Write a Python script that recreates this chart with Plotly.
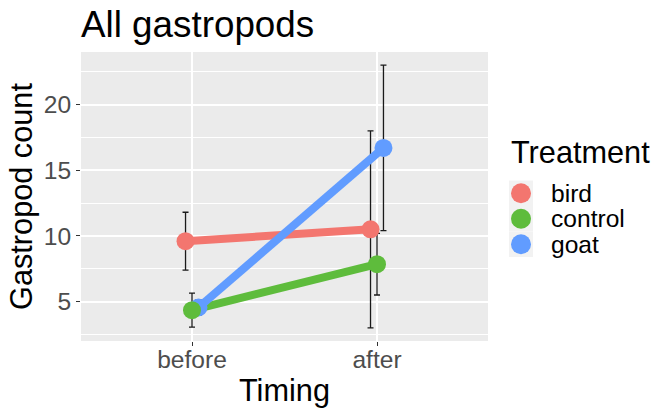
import plotly.graph_objects as go

# Mean gastropod counts (± error) per treatment, before and after
timing = ["before", "after"]
treatments = ["bird", "control", "goat"]
bird_mean = [9.6, 10.5]
bird_err = [2.2, 7.5]
control_mean = [4.35, 7.85]
control_err = [1.3, 2.35]
goat_mean = [4.55, 16.7]
goat_err = [0.6, 6.3]

means = {"bird": bird_mean, "control": control_mean, "goat": goat_mean}
errs = {"bird": bird_err, "control": control_err, "goat": goat_err}
colors = {"bird": "#F3766F", "control": "#5EBC3C", "goat": "#619CFF"}
dodge = {"bird": -0.035, "control": 0.0, "goat": 0.035}

FIG_W, FIG_H = 658, 408
ML, MR, MT, MB = 81, 170, 52, 67
PW = FIG_W - ML - MR
PH = FIG_H - MT - MB
BASE = 30.7
FONT = "Liberation Sans, Arial, sans-serif"


def px_x(p):
    return (p - ML) / PW


def px_y(p):
    return (FIG_H - MB - p) / PH


xpos = {t: [i + 1 + dodge[t] for i in range(len(timing))] for t in treatments}

fig = go.Figure()

# error bars (drawn underneath)
for t in treatments:
    fig.add_trace(go.Scatter(
        x=xpos[t], y=means[t], mode="markers",
        marker=dict(size=1, color="rgba(0,0,0,0)"),
        error_y=dict(type="data", array=errs[t], visible=True,
                     color="#1a1a1a", thickness=1.3, width=3),
        showlegend=False, hoverinfo="skip",
    ))

# connecting lines
for t in treatments:
    fig.add_trace(go.Scatter(
        x=xpos[t], y=means[t], mode="lines",
        line=dict(color=colors[t], width=8),
        showlegend=False, hoverinfo="skip",
    ))

# points
for t in ["goat", "bird", "control"]:
    fig.add_trace(go.Scatter(
        x=xpos[t], y=means[t], mode="markers",
        marker=dict(color=colors[t], size=18, line=dict(width=0)),
        showlegend=False, name=t,
    ))

# legend: title, grey key boxes, circles, labels
shapes = []
annotations = []
key_cx = 521
key_top = 180.5
key_h = 25.5
annotations.append(dict(
    text="Treatment", xref="paper", yref="paper",
    x=px_x(509), y=px_y(152.5), xanchor="left", yanchor="middle",
    showarrow=False, font=dict(family=FONT, size=BASE, color="black"),
))
for i, t in enumerate(treatments):
    cy = key_top + key_h * (i + 0.5)
    shapes.append(dict(
        type="rect", xref="paper", yref="paper",
        xsizemode="pixel", ysizemode="pixel",
        xanchor=px_x(key_cx), yanchor=px_y(cy),
        x0=-12, x1=12, y0=-key_h / 2, y1=key_h / 2,
        fillcolor="#F2F2F2", line=dict(width=0), layer="above",
    ))
    shapes.append(dict(
        type="circle", xref="paper", yref="paper",
        xsizemode="pixel", ysizemode="pixel",
        xanchor=px_x(key_cx), yanchor=px_y(cy),
        x0=-10, x1=10, y0=-10, y1=10,
        fillcolor=colors[t], line=dict(width=0), layer="above",
    ))
    annotations.append(dict(
        text=t, xref="paper", yref="paper",
        x=px_x(549), y=px_y(cy), xanchor="left", yanchor="middle",
        showarrow=False, font=dict(family=FONT, size=24.6, color="black"),
    ))

fig.update_layout(
    width=FIG_W, height=FIG_H,
    margin=dict(l=ML, r=MR, t=MT, b=MB, autoexpand=False),
    paper_bgcolor="white", plot_bgcolor="#EBEBEB",
    font=dict(family=FONT, color="black"),
    title=dict(text="All gastropods", font=dict(family=FONT, size=36.8, color="black"),
               xref="paper", x=0, xanchor="left",
               yref="container", y=1 - 24 / FIG_H, yanchor="middle"),
    showlegend=False,
    shapes=shapes, annotations=annotations,
    xaxis=dict(
        range=[0.4, 2.6], tickmode="array", tickvals=[1, 2], ticktext=timing,
        showgrid=True, gridcolor="white", gridwidth=2, zeroline=False,
        ticks="outside", ticklen=4, tickcolor="#333333", tickwidth=1.2,
        ticklabelstandoff=-8,
        tickfont=dict(family=FONT, size=24.6, color="#4D4D4D"),
        title=dict(text="Timing", font=dict(family=FONT, size=BASE, color="black"), standoff=7),
        showline=False, fixedrange=True,
    ),
    yaxis=dict(
        range=[2.0, 24.0], tickmode="array", tickvals=[5, 10, 15, 20],
        showgrid=True, gridcolor="white", gridwidth=2, zeroline=False,
        minor=dict(tickvals=[2.5, 7.5, 12.5, 17.5, 22.5], showgrid=True,
                   gridcolor="white", gridwidth=1, ticks=""),
        ticks="outside", ticklen=4, tickcolor="#333333", tickwidth=1.2,
        tickfont=dict(family=FONT, size=24.6, color="#4D4D4D"),
        title=dict(text="Gastropod count", font=dict(family=FONT, size=BASE, color="black"), standoff=1),
        showline=False, fixedrange=True,
    ),
)

fig.write_html("out.html")
